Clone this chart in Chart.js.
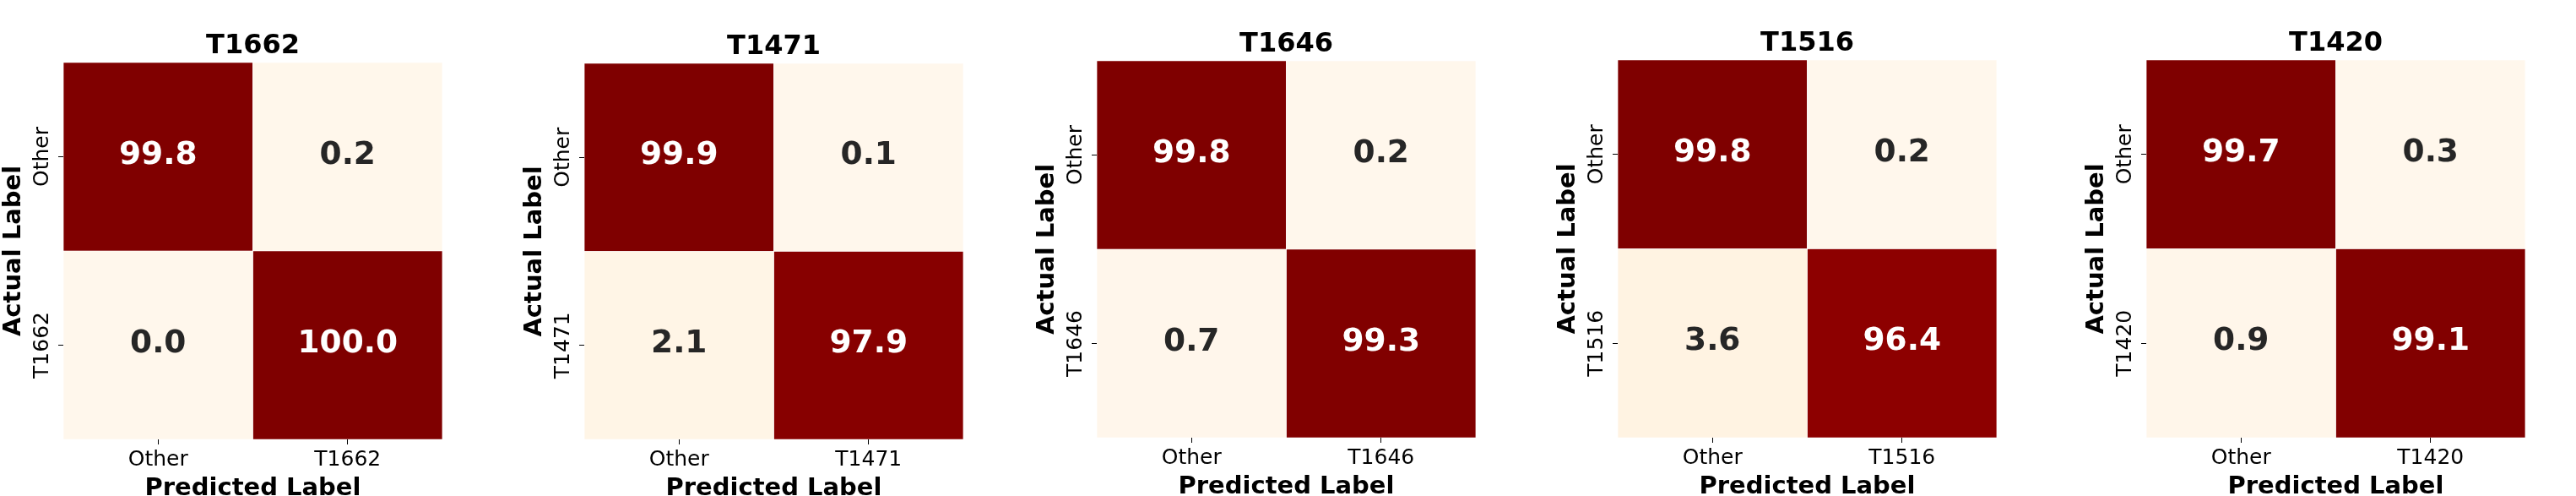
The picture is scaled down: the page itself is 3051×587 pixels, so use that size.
<!DOCTYPE html>
<html>
<head>
<meta charset="utf-8">
<title>Confusion matrices</title>
<script src="https://cdn.jsdelivr.net/npm/chart.js@4.4.0/dist/chart.umd.min.js"></script>
<style>
    html, body { margin: 0; padding: 0; background: #ffffff; }
    #wrap { position: relative; width: 3051px; height: 587px; overflow: hidden; }
    #wrap canvas { position: absolute; top: 0; }
</style>
</head>
<body>
<div id="wrap"></div>
<script>
// Data: one 2x2 confusion matrix (in %) per target
const targets = ['T1662', 'T1471', 'T1646', 'T1516', 'T1420'];
const classLabel = 'Other';
// actual = Other : [predicted Other, predicted target]
const otherRow = [[99.8, 0.2], [99.9, 0.1], [99.8, 0.2], [99.8, 0.2], [99.7, 0.3]];
// actual = target : [predicted Other, predicted target]
const targetRow = [[0.0, 100.0], [2.1, 97.9], [0.7, 99.3], [3.6, 96.4], [0.9, 99.1]];

// Layout of the plot areas (pixels)
const panelLeft = [75, 692, 1299, 1916, 2542];
const panelTop = [74, 75, 72, 71, 71];
const panelBottom = [520, 520, 518, 518, 518];
const panelWidth = 449;
const yAxisWidth = 75;
const xAxisHeight = 80;
const rightPad = 10;

const FONT = "'DejaVu Sans', 'Liberation Sans', sans-serif";

// matplotlib OrRd colormap
const orRd = [
    [255, 247, 236], [254, 232, 200], [253, 212, 158], [253, 187, 132],
    [252, 141, 89], [239, 101, 72], [215, 48, 31], [179, 0, 0], [127, 0, 0]
];

function cmap(t) {
    t = Math.min(1, Math.max(0, t));
    const pos = t * (orRd.length - 1);
    const i = Math.min(orRd.length - 2, Math.floor(pos));
    const f = pos - i;
    const c = orRd[i].map((v, k) => Math.round(v + (orRd[i + 1][k] - v) * f));
    return 'rgb(' + c.join(',') + ')';
}

// writes the value in the middle of each cell
const cellText = {
    id: 'cellText',
    afterDatasetsDraw(chart) {
        const ctx = chart.ctx;
        ctx.save();
        ctx.font = 'bold 37.5px ' + FONT;
        ctx.textAlign = 'center';
        ctx.textBaseline = 'middle';
        chart.data.datasets.forEach((ds, di) => {
            const meta = chart.getDatasetMeta(di);
            meta.data.forEach((bar, i) => {
                const v = ds.values[i];
                const t = ds.norm[i];
                ctx.fillStyle = t > 0.5 ? '#ffffff' : '#262626';
                ctx.fillText(v.toFixed(1), bar.x, (bar.y + bar.base) / 2 - 1.5);
            });
        });
        ctx.restore();
    }
};

const wrap = document.getElementById('wrap');
const charts = [];

targets.forEach((name, p) => {
    const all = otherRow[p].concat(targetRow[p]);
    const vmin = Math.min(...all);
    const vmax = Math.max(...all);
    const norm = v => (v - vmin) / (vmax - vmin);

    const canvas = document.createElement('canvas');
    const w = yAxisWidth + panelWidth + rightPad;
    const h = panelBottom[p] + xAxisHeight;
    canvas.width = w;
    canvas.height = h;
    canvas.style.left = (panelLeft[p] - yAxisWidth) + 'px';
    canvas.style.width = w + 'px';
    canvas.style.height = h + 'px';
    wrap.appendChild(canvas);

    const rowSet = (vals) => ({
        data: [1, 1],
        values: vals,
        norm: vals.map(norm),
        backgroundColor: vals.map(v => cmap(norm(v))),
        borderColor: '#ffffff',
        borderWidth: 0.7,
        borderSkipped: false,
        barPercentage: 1,
        categoryPercentage: 1
    });

    charts.push(new Chart(canvas, {
        type: 'bar',
        data: {
            labels: [classLabel, name],
            // bottom row first, stacked upwards
            datasets: [rowSet(targetRow[p]), rowSet(otherRow[p])]
        },
        options: {
            responsive: false,
            animation: false,
            devicePixelRatio: 1,
            layout: { padding: { left: 0, right: rightPad, top: 0, bottom: 0 } },
            plugins: {
                legend: { display: false },
                tooltip: { enabled: false },
                title: {
                    display: true,
                    text: name,
                    fullSize: false,
                    color: '#000000',
                    font: { family: FONT, size: 32, weight: 'bold', lineHeight: 1.2 },
                    padding: { top: panelTop[p] - 38.8, bottom: 0.4 }
                }
            },
            scales: {
                x: {
                    stacked: true,
                    offset: true,
                    border: { display: false },
                    grid: { offset: false, drawOnChartArea: false, drawTicks: true, tickLength: 6, tickColor: '#000000', tickWidth: 1 },
                    ticks: { color: '#000000', padding: 3.5, maxRotation: 0, font: { family: FONT, size: 25, lineHeight: 1.2 } },
                    title: {
                        display: true,
                        text: 'Predicted Label',
                        color: '#000000',
                        font: { family: FONT, size: 29, weight: 'bold', lineHeight: 1.2 },
                        padding: { top: 0, bottom: 4 }
                    },
                    afterFit: s => { s.height = xAxisHeight; }
                },
                y: {
                    stacked: true,
                    min: 0,
                    max: 2,
                    border: { display: false },
                    grid: { drawOnChartArea: false, drawTicks: true, tickLength: 6, tickColor: '#000000', tickWidth: 1 },
                    afterBuildTicks: s => { s.ticks = [{ value: 0.5 }, { value: 1.5 }]; },
                    ticks: {
                        color: '#000000',
                        minRotation: 90,
                        maxRotation: 90,
                        crossAlign: 'center',
                        padding: -21,
                        font: { family: FONT, size: 25, lineHeight: 1.2 },
                        callback: v => (v > 1 ? classLabel : name)
                    },
                    title: {
                        display: true,
                        text: 'Actual Label',
                        color: '#000000',
                        font: { family: FONT, size: 29, weight: 'bold', lineHeight: 1.2 },
                        padding: { top: -1, bottom: 0 }
                    },
                    afterFit: s => { s.width = yAxisWidth; }
                }
            }
        },
        plugins: [cellText]
    }));
});
</script>
</body>
</html>
